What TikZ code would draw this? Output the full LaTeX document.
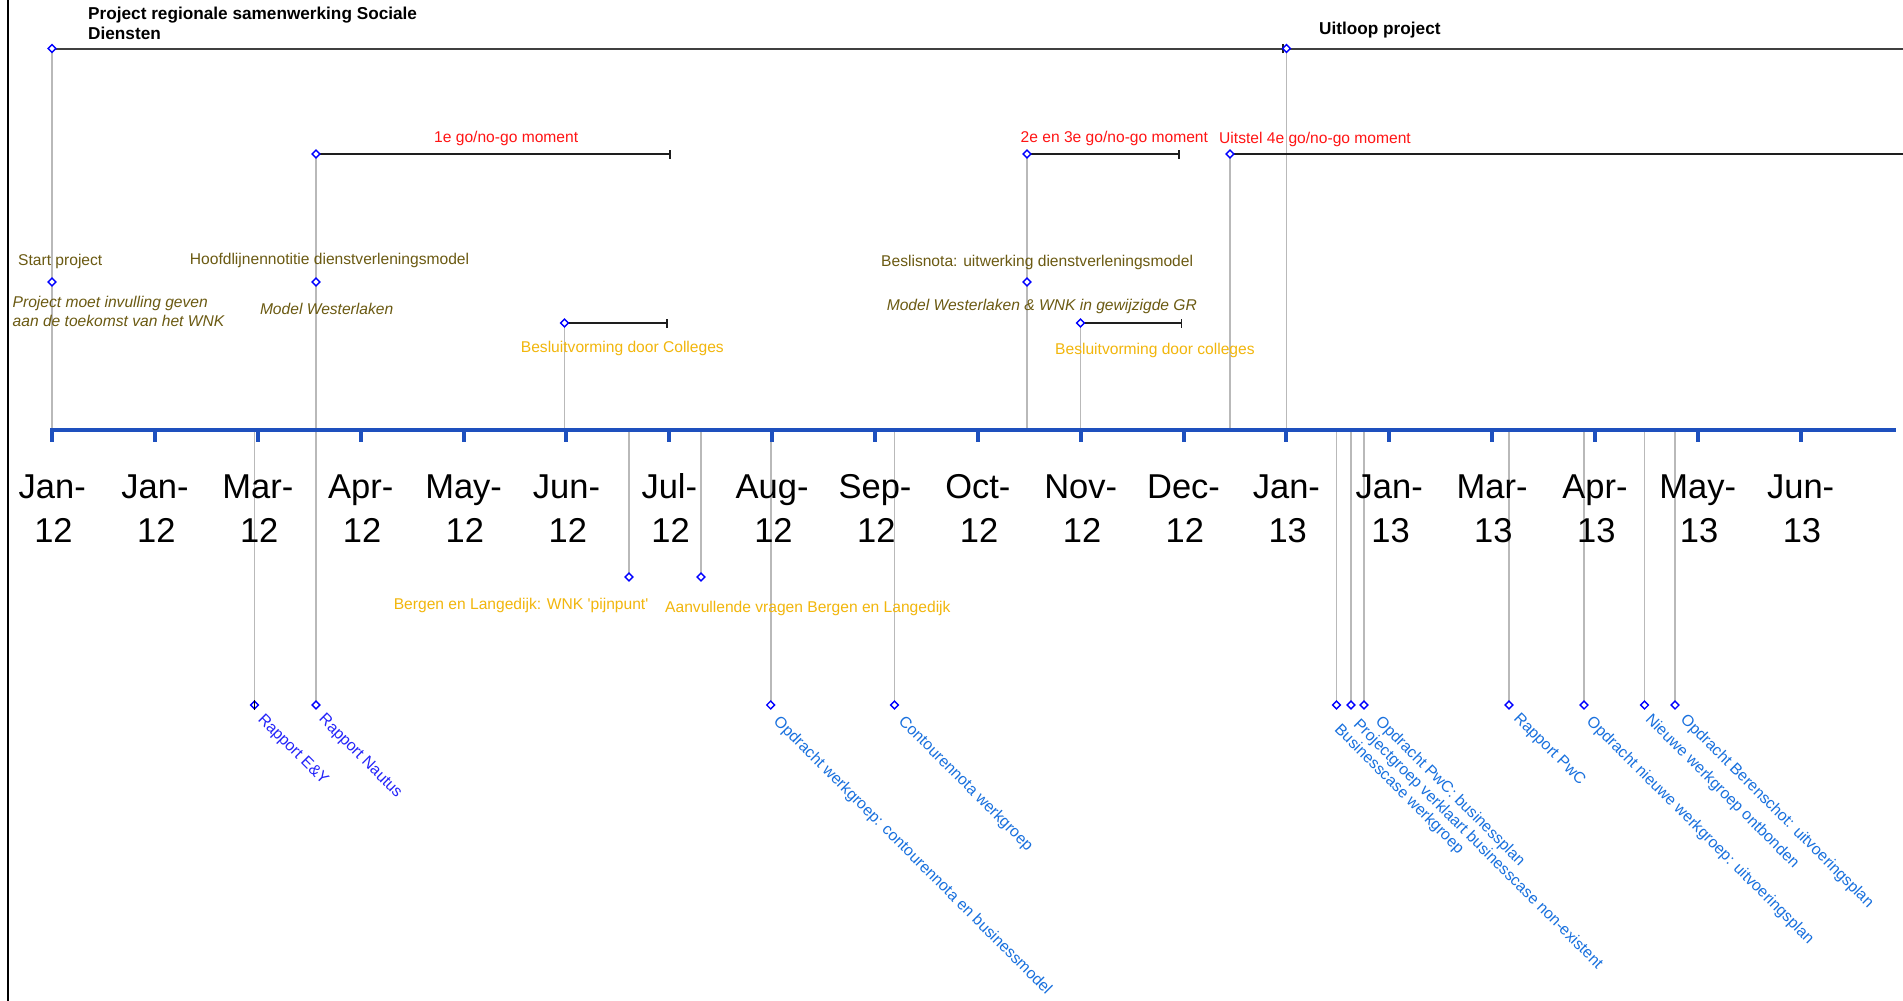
\documentclass[tikz,border=0pt]{standalone}
\usepackage{fontspec}
\setmainfont{Liberation Sans}
\usetikzlibrary{shapes.geometric}
\definecolor{cAxis}{RGB}{30,80,190}
\definecolor{cStem}{RGB}{185,185,185}
\definecolor{cBar}{RGB}{30,30,30}
\definecolor{cTop}{RGB}{64,64,64}
\definecolor{cDia}{RGB}{0,0,255}
\definecolor{cRed}{RGB}{255,20,20}
\definecolor{cOlive}{RGB}{107,90,18}
\definecolor{cGold}{RGB}{242,182,12}
\definecolor{cBlueA}{RGB}{35,35,250}
\definecolor{cBlueB}{RGB}{24,112,222}
\tikzset{
  stem/.style={draw=cStem, line width=1.6pt},
  rangebar/.style={draw=cBar, line width=1.8pt},
  topbar/.style={draw=cTop, line width=2pt},
  endcap/.style={draw=cBar, line width=1.5pt},
  dmd/.style={diamond, draw=cDia, fill=white, line width=1.4pt, inner sep=0pt, minimum width=8.5pt, minimum height=8.5pt},
  lbl/.style={font=\fontsize{15.6}{18}\selectfont, inner sep=0pt, anchor=base west},
  itlbl/.style={lbl, font=\fontsize{15.6}{18}\selectfont\itshape, text=cOlive},
  boldlbl/.style={font=\fontsize{17.2}{20}\selectfont\bfseries, inner sep=0pt, anchor=base west, text=black},
  rlbl/.style={font=\fontsize{15.8}{18}\selectfont, inner sep=0pt, anchor=north west, rotate=-45, text=cBlueB},
  monlbl/.style={font=\fontsize{34.5}{40}\selectfont, inner sep=0pt, anchor=base, text=black},
  axisline/.style={draw=cAxis, line width=4.2pt},
  axtick/.style={draw=cAxis, line width=4pt},
}
\begin{document}
\begin{tikzpicture}[x=1pt, y=-1pt]
\useasboundingbox[fill=white] (0,0) rectangle (1903,1001);
% left frame line
\coordinate (lt) at (7.5,0);
\coordinate (lb) at (7.5,1001);
\draw[line width=2pt, black] (lt) -- (lb);

% ---- coordinates ----
\coordinate (tA) at (52,48.5);
\coordinate (tAe) at (1283,48.5);
\coordinate (tB) at (1286.5,48.5);
\coordinate (tE) at (1903,48.5);
\coordinate (g1) at (316,154);
\coordinate (g1e) at (670,154);
\coordinate (g2) at (1027,154);
\coordinate (g2e) at (1179,154);
\coordinate (g3) at (1230,154);
\coordinate (g3e) at (1903,154);
\coordinate (k1) at (52,282);
\coordinate (k2) at (316,282);
\coordinate (k3) at (1027,282);
\coordinate (c1) at (564.5,323);
\coordinate (c1e) at (667,323);
\coordinate (c2) at (1080.5,323);
\coordinate (c2e) at (1181.5,323);
% axis feet
\coordinate (fA) at (52,430);
\coordinate (fC1) at (564.5,430);
\coordinate (fG2) at (1027,430);
\coordinate (fC2) at (1080.5,430);
\coordinate (fG3) at (1230,430);
\coordinate (fB) at (1286.5,430);
% below diamonds
\coordinate (b1) at (629,577);
\coordinate (b2) at (701,577);
\foreach \n/\x in {q1/254.5, q2/316, q3/770.7, q4/894.5, q5/1336.5, q6/1351, q7/1364, q8/1509, q9/1584, q10/1644.5, q11/1675}{
  \coordinate (\n) at (\x,705);
  \coordinate (\n f) at (\x,430);
}
\coordinate (b1f) at (629,430);
\coordinate (b2f) at (701,430);

% ---- stems ----
\draw[stem] (tA) -- (fA);
\draw[stem] (g1) -- (q2);
\draw[stem] (c1) -- (fC1);
\draw[stem] (g2) -- (fG2);
\draw[stem] (c2) -- (fC2);
\draw[stem] (g3) -- (fG3);
\draw[stem] (tB) -- (fB);
\draw[stem] (b1f) -- (b1);
\draw[stem] (b2f) -- (b2);
\foreach \n in {q1,q3,q4,q5,q6,q7,q8,q9,q10,q11}{
  \draw[stem] (\n f) -- (\n);
}

% ---- bars ----
\draw[topbar] (tA) -- (tAe);
\draw[endcap] ([yshift=-4.5pt]tAe) -- ([yshift=4.5pt]tAe);
\draw[topbar] (tB) -- (tE);
\draw[rangebar] (g1) -- (g1e);
\draw[endcap] ([yshift=-4.5pt]g1e) -- ([yshift=4.5pt]g1e);
\draw[rangebar] (g2) -- (g2e);
\draw[endcap] ([yshift=-4.5pt]g2e) -- ([yshift=4.5pt]g2e);
\draw[rangebar] (g3) -- (g3e);
\draw[rangebar] (c1) -- (c1e);
\draw[endcap] ([yshift=-4.5pt]c1e) -- ([yshift=4.5pt]c1e);
\draw[rangebar] (c2) -- (c2e);
\draw[endcap] ([yshift=-4.5pt]c2e) -- ([yshift=4.5pt]c2e);

% ---- axis ----
\coordinate (axL) at (50,430);
\coordinate (axR) at (1896,430);
\draw[axisline] (axL) -- (axR);
\foreach \i in {0,...,17}{
  \draw[axtick] ({52.2+102.85*\i},430) -- ({52.2+102.85*\i},441.5);
}
\foreach \mo/\yr [count=\i from 0] in {Jan/12,Jan/12,Mar/12,Apr/12,May/12,Jun/12,Jul/12,Aug/12,Sep/12,Oct/12,Nov/12,Dec/12,Jan/13,Jan/13,Mar/13,Apr/13,May/13,Jun/13}{
  \node[monlbl] (mo\i) at ({52.2+102.85*\i},498.5) {\mo-};
  \node[monlbl] (yr\i) at ({53.5+102.85*\i},542.5) {\yr};
}

% ---- diamonds ----
\foreach \n in {tA,tB,g1,g2,g3,k1,k2,k3,c1,c2,b1,b2,q1,q2,q3,q4,q5,q6,q7,q8,q9,q10,q11}{
  \node[dmd] (d\n) at (\n) {};
}
\draw[line width=1.3pt, black] ([yshift=-5pt]q1) -- ([yshift=5pt]q1);

% ---- titles ----
\node[boldlbl] (tt1) at (88,19.3) {Project regionale samenwerking Sociale};
\node[boldlbl] (tt2) at (88,39.3) {Diensten};
\node[boldlbl] (tt3) at (1319,34.5) {Uitloop project};

% ---- red ----
\node[lbl, text=cRed] (r1) at (434,142.5) {1e go/no-go moment};
\node[lbl, text=cRed] (r2) at (1020.5,142.5) {2e en 3e go/no-go moment};
\node[lbl, text=cRed] (r3) at (1219,143.5) {Uitstel 4e go/no-go moment};

% ---- olive ----
\node[lbl, text=cOlive] (o1) at (18,265.5) {Start project};
\node[lbl, text=cOlive] (o2) at (189.7,264) {Hoofdlijnennotitie dienstverleningsmodel};
\node[lbl, text=cOlive] (o3) at (881,266) {Beslisnota: uitwerking dienstverleningsmodel};
\node[itlbl] (i1) at (12.5,307) {Project moet invulling geven};
\node[itlbl] (i2) at (12.5,326.7) {aan de toekomst van het WNK};
\node[itlbl] (i3) at (259.8,314.3) {Model Westerlaken};
\node[itlbl] (i4) at (886.6,310.7) {Model Westerlaken \& WNK in gewijzigde GR};

% ---- gold ----
\node[lbl, text=cGold] (y1) at (520.7,352.7) {Besluitvorming door Colleges};
\node[lbl, text=cGold] (y2) at (1055,354) {Besluitvorming door colleges};
\node[lbl, text=cGold] (y3) at (393.6,609.3) {Bergen en Langedijk: WNK \textquotesingle pijnpunt\textquotesingle};
\node[lbl, text=cGold] (y4) at (665,612) {Aanvullende vragen Bergen en Langedijk};

% ---- rotated blue ----
\node[rlbl, text=cBlueA] (z1) at (265,712) {Rapport E\&Y};
\node[rlbl, text=cBlueA] (z2) at (326,712) {Rapport Nautus};
\node[rlbl] (z3) at (781,714) {Opdracht werkgroep: contourennota en businessmodel};
\node[rlbl] (z4) at (906,714) {Contourennota werkgroep};
\node[rlbl] (z5) at (1342,722) {Businesscase werkgroep};
\node[rlbl] (z6) at (1361,717) {Projectgroep verklaart businesscase non-existent};
\node[rlbl] (z7) at (1383,714) {Opdracht PwC: businessplan};
\node[rlbl] (z8) at (1521,711) {Rapport PwC};
\node[rlbl] (z9) at (1594,714) {Opdracht nieuwe werkgroep: uitvoeringsplan};
\node[rlbl] (z10) at (1653,712) {Nieuwe werkgroep ontbonden};
\node[rlbl] (z11) at (1688,712) {Opdracht Berenschot: uitvoeringsplan};
\end{tikzpicture}
\end{document}
